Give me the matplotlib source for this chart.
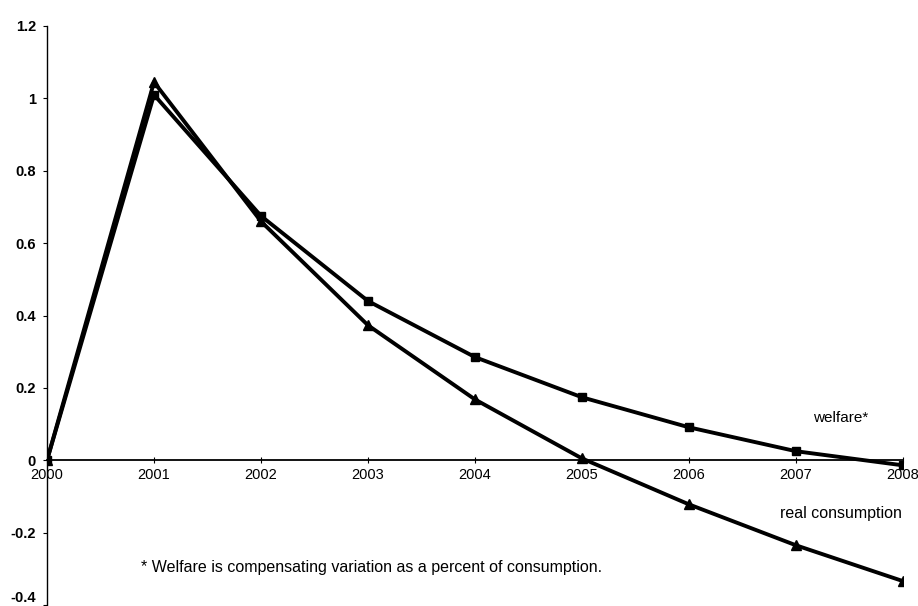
import matplotlib.pyplot as plt

# Values
years = [2000, 2001, 2002, 2003, 2004, 2005, 2006, 2007, 2008]
welfare = [0.0, 1.01, 0.675, 0.44, 0.285, 0.174, 0.091, 0.025, -0.014]
real_consumption = [0.0, 1.045, 0.66, 0.373, 0.168, 0.005, -0.122, -0.235, -0.334]
y_ticks = [-0.4, -0.2, 0, 0.2, 0.4, 0.6, 0.8, 1, 1.2]
y_tick_labels = ['-0.4', '-0.2', '0', '0.2', '0.4', '0.6', '0.8', '1', '1.2']

plt.rcParams['font.family'] = ['Liberation Sans', 'DejaVu Sans']

fig = plt.figure(figsize=(9.18, 6.06), dpi=100)
ax = fig.add_axes([0.0512, 0.0016, 0.9325, 0.9555])

# the two series
ax.plot(years, welfare, color='black', lw=2.8, marker='s', markersize=6)
ax.plot(years, real_consumption, color='black', lw=2.8, marker='^', markersize=7)

ax.set_xlim(2000, 2008)
ax.set_ylim(-0.4, 1.2)

# axis lines: y on the left, x crossing at zero
ax.spines['top'].set_visible(False)
ax.spines['right'].set_visible(False)
ax.spines['bottom'].set_position(('data', 0))
ax.spines['bottom'].set_linewidth(1.3)
ax.spines['left'].set_linewidth(1.0)

ax.set_xticks(years)
ax.set_xticklabels([str(y) for y in years], fontsize=10.5)
ax.tick_params(axis='x', direction='inout', length=5, pad=3)
ax.set_yticks(y_ticks)
ax.set_yticklabels(y_tick_labels, fontsize=10.5, fontweight='bold')
ax.tick_params(axis='y', direction='out', length=3, pad=5)
# bottom label sits just above its tick so it stays on the page
ax.get_yticklabels()[0].set_va('bottom')

# labels next to the lines
ax.text(2007.42, 0.116, 'welfare*', fontsize=11, ha='center', va='center')
ax.text(2007.42, -0.146, 'real consumption', fontsize=11.5, ha='center', va='center')

# footnote
ax.text(2000.88, -0.297, '* Welfare is compensating variation as a percent of consumption.',
        fontsize=11.5, ha='left', va='center')

fig.savefig('out.png', dpi=100)
